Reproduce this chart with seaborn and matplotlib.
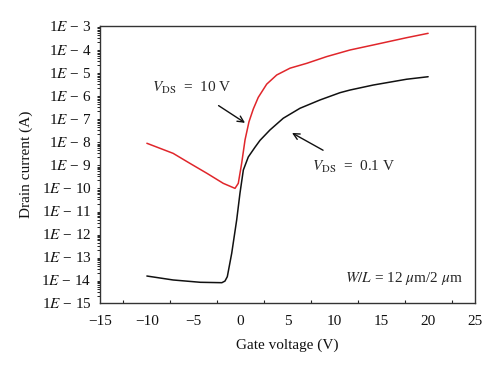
import numpy as np
import pandas as pd
import seaborn as sns
import matplotlib
matplotlib.use("Agg")
import matplotlib.pyplot as plt
from matplotlib.ticker import FixedLocator, FuncFormatter, MultipleLocator, NullFormatter

# Data
red_v = [-10.0, -7.2, -5.4, -3.6, -1.85, -0.6, -0.25, 0.11, 0.47, 0.89, 1.35, 1.88, 2.78, 3.85, 5.27, 7.05, 9.18, 11.67, 14.15, 17.7, 20.0]
red_i = [8.2e-9, 3.0e-9, 1.1e-9, 4.1e-10, 1.5e-10, 9.1e-11, 1.5e-10, 1.1e-9, 1.15e-8, 7.0e-8, 2.5e-7, 8.0e-7, 3.0e-6, 7.5e-6, 1.48e-5, 2.4e-5, 4.7e-5, 9.1e-5, 1.5e-4, 3.1e-4, 4.8e-4]

blk_v = [-10.0, -7.2, -4.3, -2.0, -1.67, -1.42, -0.95, -0.42, -0.07, 0.29, 0.82, 1.53, 2.07, 3.13, 4.55, 6.33, 8.47, 10.6, 11.67, 14.15, 17.7, 20.0]
blk_i = [1.44e-14, 9.7e-15, 7.7e-15, 7.4e-15, 8.7e-15, 1.35e-14, 1.4e-13, 3.9e-12, 5.6e-11, 5.7e-10, 2.1e-9, 5.5e-9, 1.1e-8, 3.1e-8, 1e-7, 2.7e-7, 6.2e-7, 1.28e-6, 1.67e-6, 2.75e-6, 4.9e-6, 6.3e-6]

x_ticks = [-15, -10, -5, 0, 5, 10, 15, 20, 25]
y_exponents = list(range(-15, -2))

sns.set_theme(style="white")
plt.rcParams['font.family'] = ['Liberation Serif', 'DejaVu Serif']
plt.rcParams['mathtext.fontset'] = 'stix'

fig = plt.figure(figsize=(5.0, 3.71), dpi=100)
ax = fig.add_axes([0.2, 0.184, 0.75, 0.746])

df_r = pd.DataFrame({"v": red_v, "i": red_i})
df_b = pd.DataFrame({"v": blk_v, "i": blk_i})
sns.lineplot(data=df_r, x="v", y="i", ax=ax, color="#e0262b", lw=1.1, estimator=None)
sns.lineplot(data=df_b, x="v", y="i", ax=ax, color="#111111", lw=1.1, estimator=None)

ax.set_yscale("log")
ax.set_xlim(-15, 25)
ax.set_ylim(10.0 ** y_exponents[0], 10.0 ** y_exponents[-1])
ax.set_xticks(x_ticks)
ax.xaxis.set_minor_locator(MultipleLocator(2.5))
ax.yaxis.set_major_locator(FixedLocator([10.0 ** e for e in y_exponents]))
ax.yaxis.set_minor_locator(FixedLocator([m * 10.0 ** e for e in y_exponents[:-1] for m in range(2, 10)]))
ax.yaxis.set_minor_formatter(NullFormatter())

def fmt(y, pos):
    e = int(round(np.log10(y)))
    return "1$E$ \u2212 %d" % (-e)

ax.yaxis.set_major_formatter(FuncFormatter(fmt))
ax.xaxis.set_major_formatter(FuncFormatter(lambda x, p: ("\u2212%d" % -x) if x < 0 else "%d" % x))

ax.tick_params(axis="y", which="major", direction="out", length=4, width=1, labelsize=11, pad=2, colors="#222222")
ax.tick_params(axis="y", which="minor", direction="out", length=2.5, width=0.7, colors="#222222", left=True)
ax.tick_params(axis="x", which="major", direction="inout", length=5, width=1, labelsize=11, pad=6.5, colors="#222222")
ax.tick_params(axis="x", which="minor", direction="in", length=2.5, width=0.8, colors="#222222", bottom=True)
for lab in ax.get_xticklabels() + ax.get_yticklabels():
    lab.set_color("#111111")

for s in ax.spines.values():
    s.set_visible(True)
    s.set_color("#333333")
    s.set_linewidth(1.0)

ax.set_xlabel("Gate voltage (V)", fontsize=11, color="#111111", labelpad=7.5)
ax.set_ylabel("Drain current (A)", fontsize=11, color="#111111", labelpad=6)
ax.grid(False)

ax.annotate("$V_{\\mathrm{DS}}$  =  10 V", xy=(0.47, 6.3e-8), xytext=(-5.2, 2e-6),
            fontsize=11, ha="center", va="center",
            arrowprops=dict(arrowstyle="->", color="#111111", lw=1.0, shrinkA=8, shrinkB=0))
ax.annotate("$V_{\\mathrm{DS}}$  =  0.1 V", xy=(5.48, 2.3e-8), xytext=(12.0, 7.7e-10),
            fontsize=11, ha="center", va="center",
            arrowprops=dict(arrowstyle="->", color="#111111", lw=1.0, shrinkA=8, shrinkB=0))
ax.text(23.7, 1.07e-14, "$W/L$ = 12 $\\mu$m/2 $\\mu$m", fontsize=11, ha="right", va="center")

fig.savefig("out.png", dpi=100)
